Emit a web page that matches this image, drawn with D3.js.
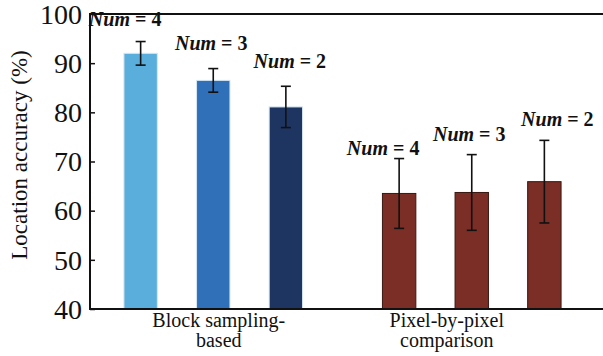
<!DOCTYPE html>
<html>
<head>
<meta charset="utf-8">
<script src="https://cdn.jsdelivr.net/npm/d3@7"></script>
<style>
  html, body { margin: 0; padding: 0; background: #fff; font-family: 'Liberation Serif', serif; }
</style>
</head>
<body>
<div id="chart"></div>
<script>
// data
const groups = ['Block sampling-based', 'Pixel-by-pixel comparison'];
const groupLines = [['Block sampling-', 'based'], ['Pixel-by-pixel', 'comparison']];
const nums = [4, 3, 2];
const blockMeans = [92.0, 86.5, 81.1];
const blockErrs = [2.4, 2.4, 4.2];
const pixelMeans = [63.5, 63.7, 65.9];
const pixelErrs = [7.1, 7.7, 8.4];
const yTicks = [40, 50, 60, 70, 80, 90, 100];

const width = 603, height = 356;
const plotLeft = 90, plotTop = 14, plotBottom = 309;
const serif = "'Liberation Serif', serif";

// label nudges (layout only)
const labelDx = [[-15.5, -2, 4], [-16, -2.5, 13]];
const labelDy = [[-16, -19, -18], [-4, -14, -14]];
const groupDx = [5.5, -25];

const bars = [];
groups.forEach((g, gi) => {
  const means = gi === 0 ? blockMeans : pixelMeans;
  const errs = gi === 0 ? blockErrs : pixelErrs;
  nums.forEach((n, i) => bars.push({ group: g, gi, i, num: n, mean: means[i], err: errs[i] }));
});

const colors = [['#5aaedc', '#2f70b8', '#1e3562'], ['#7b2e25', '#7b2e25', '#7b2e25']];

const svg = d3.select('#chart').append('svg')
  .attr('width', width)
  .attr('height', height)
  .style('display', 'block')
  .style('font-family', serif);

const y = d3.scaleLinear().domain([40, 100]).range([plotBottom, plotTop]);
const x0 = d3.scaleBand().domain(groups).range([84, 601]).padding(0);
const x1 = d3.scaleBand().domain(nums).range([0, x0.bandwidth()])
  .paddingInner(0.54).paddingOuter(0.55);

// bars
svg.selectAll('rect.bar')
  .data(bars)
  .enter().append('rect')
  .attr('class', 'bar')
  .attr('x', d => x0(d.group) + x1(d.num))
  .attr('y', d => y(d.mean))
  .attr('width', x1.bandwidth())
  .attr('height', d => y(40) - y(d.mean))
  .attr('fill', d => colors[d.gi][d.i])
  .attr('stroke', d => d.gi === 0 ? '#d6e6f3' : '#3a1712')
  .attr('stroke-width', 1);

// error bars
const cx = d => x0(d.group) + x1(d.num) + x1.bandwidth() / 2;
const eb = svg.selectAll('g.err')
  .data(bars)
  .enter().append('g')
  .attr('class', 'err')
  .attr('stroke', '#111')
  .attr('stroke-width', 1.6);
eb.append('line')
  .attr('x1', cx).attr('x2', cx)
  .attr('y1', d => y(d.mean + d.err)).attr('y2', d => y(d.mean - d.err));
eb.append('line')
  .attr('x1', d => cx(d) - 5).attr('x2', d => cx(d) + 5)
  .attr('y1', d => y(d.mean + d.err)).attr('y2', d => y(d.mean + d.err));
eb.append('line')
  .attr('x1', d => cx(d) - 5).attr('x2', d => cx(d) + 5)
  .attr('y1', d => y(d.mean - d.err)).attr('y2', d => y(d.mean - d.err));

// Num labels
const lab = svg.selectAll('text.num')
  .data(bars)
  .enter().append('text')
  .attr('class', 'num')
  .attr('x', d => cx(d) + labelDx[d.gi][d.i])
  .attr('y', d => y(d.mean + d.err) + labelDy[d.gi][d.i])
  .attr('text-anchor', 'middle')
  .style('font-family', serif)
  .style('font-size', '20px')
  .style('font-weight', 'bold')
  .attr('fill', '#111');
lab.append('tspan').style('font-family', serif).style('font-style', 'italic').text('Num');
lab.append('tspan').style('font-family', serif).text(d => ' = ' + d.num);

// axis frame
svg.append('line')
  .attr('x1', plotLeft).attr('x2', plotLeft).attr('y1', plotTop).attr('y2', plotBottom)
  .attr('stroke', '#111').attr('stroke-width', 2);
svg.append('line')
  .attr('x1', plotLeft - 1).attr('x2', width).attr('y1', plotTop).attr('y2', plotTop)
  .attr('stroke', '#111').attr('stroke-width', 2);
svg.append('line')
  .attr('x1', plotLeft - 1).attr('x2', width).attr('y1', plotBottom).attr('y2', plotBottom)
  .attr('stroke', '#111').attr('stroke-width', 2);

// y axis ticks + labels
const yAxis = d3.axisRight(y).tickValues(yTicks).tickSize(5).tickFormat('');
svg.append('g')
  .attr('transform', `translate(${plotLeft},0)`)
  .call(yAxis)
  .call(g => g.select('.domain').remove())
  .call(g => g.selectAll('line').attr('stroke', '#111').attr('stroke-width', 1.5));

svg.selectAll('text.ytick')
  .data(yTicks)
  .enter().append('text')
  .attr('class', 'ytick')
  .attr('x', plotLeft - 8)
  .attr('y', d => y(d))
  .attr('dy', '0.35em')
  .attr('text-anchor', 'end')
  .style('font-family', serif)
  .style('font-size', '28px')
  .attr('fill', '#111')
  .text(d => d);

// y title
svg.append('text')
  .attr('transform', `translate(27,155) rotate(-90)`)
  .attr('text-anchor', 'middle')
  .style('font-family', serif)
  .style('font-size', '23px')
  .attr('fill', '#111')
  .text('Location accuracy (%)');

// group labels
groups.forEach((g, gi) => {
  const t = svg.append('text')
    .attr('text-anchor', 'middle')
    .style('font-family', serif)
    .style('font-size', '20px')
    .attr('fill', '#111');
  groupLines[gi].forEach((line, li) => {
    t.append('tspan')
      .attr('x', x0(g) + x0.bandwidth() / 2 + groupDx[gi])
      .attr('y', 327 + li * 20)
      .style('font-family', serif)
      .text(line);
  });
});
</script>
</body>
</html>
